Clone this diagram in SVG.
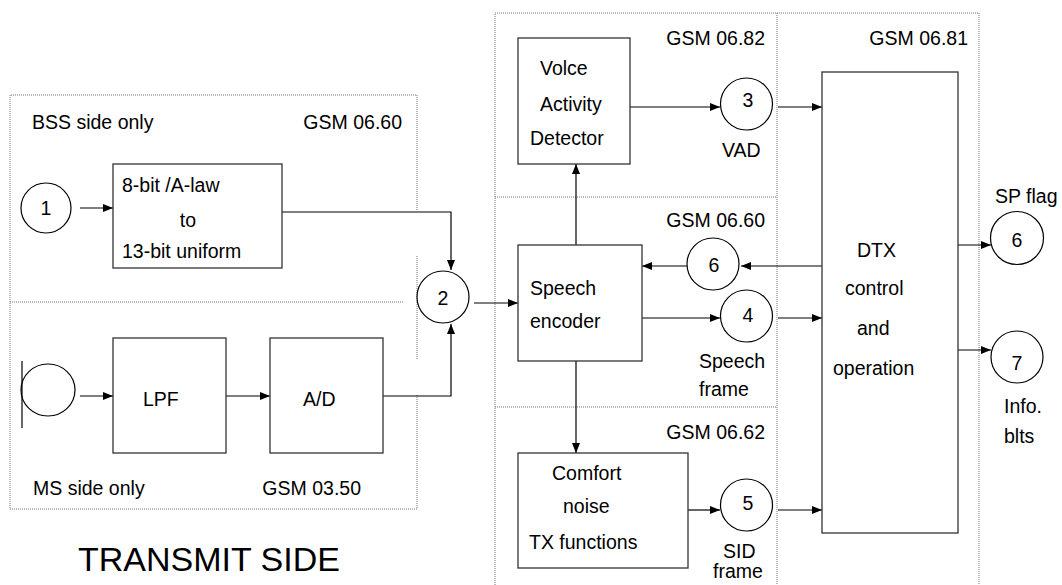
<svg xmlns="http://www.w3.org/2000/svg" width="1062" height="585" viewBox="0 0 1062 585">
<style>
text{font-family:"Liberation Sans",Arial,sans-serif;font-size:19.5px;fill:#000}
.big{font-size:34px}
.mid{text-anchor:middle}
.end{text-anchor:end}
.box{fill:#fff;stroke:#333;stroke-width:1.3}
.circ{fill:#fff;stroke:#000;stroke-width:1.2}
.dot{fill:none;stroke:#777;stroke-width:1;stroke-dasharray:1 1}
.ln{fill:none;stroke:#000;stroke-width:1.2}
.arr{fill:none;stroke:#000;stroke-width:1.2;marker-end:url(#ah)}
</style>
<defs>
<marker id="ah" viewBox="0 0 10 8" refX="10" refY="4" markerWidth="10" markerHeight="8" markerUnits="userSpaceOnUse" orient="auto">
<path d="M0,0 L10,4 L0,8 z" fill="#000"/>
</marker>
</defs>
<rect width="1062" height="585" fill="#fff"/>

<g id="frames">
<path class="dot" d="M417,210 V95 H10 V509 H417 V395 M417,256 V359"/>
<path class="dot" d="M10,302 H403"/>
<path class="dot" d="M495,585 V13 H979 V585 M777,13 V585 M495,197 H777 M495,407 H777"/>
</g>

<g id="labels">
<text x="32" y="129">BSS side only</text>
<text x="402" y="129" class="end">GSM 06.60</text>
<text x="33" y="495">MS side only</text>
<text x="361" y="495" class="end">GSM 03.50</text>
<text x="78" y="571" class="big">TRANSMIT SIDE</text>
<text x="765" y="45" class="end">GSM 06.82</text>
<text x="765" y="227" class="end">GSM 06.60</text>
<text x="765" y="439" class="end">GSM 06.62</text>
<text x="968" y="45" class="end">GSM 06.81</text>
<text x="722" y="157">VAD</text>
<text x="699" y="368">Speech</text>
<text x="699" y="396">frame</text>
<text x="723" y="558">SID</text>
<text x="713" y="578">frame</text>
<text x="995" y="203">SP flag</text>
<text x="1004" y="413">Info.</text>
<text x="1004" y="443">blts</text>
</g>

<g id="connectors">
<path class="arr" d="M80,208 H113"/>
<path class="arr" d="M282,212 H451 V270"/>
<path class="arr" d="M80,396 H113"/>
<path class="arr" d="M226,396 H270"/>
<path class="arr" d="M383,396 H451 V324"/>
<path class="arr" d="M474,303 H518"/>
<path class="arr" d="M576,245 V164"/>
<path class="arr" d="M576,361 V453"/>
<path class="arr" d="M630,107 H720"/>
<path class="arr" d="M687,266 H642"/>
<path class="arr" d="M822,266 H741"/>
<path class="arr" d="M642,318 H720"/>
<path class="arr" d="M688,510 H720"/>
<path class="arr" d="M778,107 H822"/>
<path class="arr" d="M778,318 H822"/>
<path class="arr" d="M778,510 H822"/>
<path class="arr" d="M958,245 H991"/>
<path class="arr" d="M958,350 H991"/>
</g>

<g id="n1"><circle class="circ" cx="46" cy="208" r="25"/><text x="46" y="215" class="mid">1</text></g>
<g id="conv"><rect class="box" x="113" y="164" width="169" height="104"/>
<text x="122" y="192">8-bit /A-law</text><text x="188" y="227" class="mid">to</text><text x="122" y="258">13-bit uniform</text></g>
<g id="mic"><ellipse class="circ" cx="48" cy="390" rx="27" ry="26"/><path class="ln" d="M22,361 V428"/></g>
<g id="lpf"><rect class="box" x="113" y="338" width="113" height="115"/><text x="143" y="406">LPF</text></g>
<g id="ad"><rect class="box" x="270" y="338" width="113" height="115"/><text x="303" y="406">A/D</text></g>
<g id="n2"><circle class="circ" cx="443" cy="297" r="26"/><text x="443" y="305" class="mid">2</text></g>
<g id="vad"><rect class="box" x="518" y="38" width="112" height="126"/>
<text x="540" y="75">Volce</text><text x="540" y="111">Activity</text><text x="530" y="145">Detector</text></g>
<g id="n3"><circle class="circ" cx="746.5" cy="104" r="26"/><text x="748" y="107" class="mid">3</text></g>
<g id="enc"><rect class="box" x="518" y="245" width="124" height="116"/>
<text x="530" y="295">Speech</text><text x="530" y="328">encoder</text></g>
<g id="n6a"><circle class="circ" cx="713" cy="264" r="26"/><text x="714" y="272" class="mid">6</text></g>
<g id="n4"><circle class="circ" cx="746.5" cy="316" r="26"/><text x="748" y="322" class="mid">4</text></g>
<g id="cn"><rect class="box" x="518" y="453" width="170" height="115"/>
<text x="552" y="480">Comfort</text><text x="563" y="513">noise</text><text x="529" y="549">TX functions</text></g>
<g id="n5"><circle class="circ" cx="746.5" cy="505" r="26"/><text x="748" y="510" class="mid">5</text></g>
<g id="dtx"><rect class="box" x="822" y="72" width="136" height="461"/>
<text x="857" y="257">DTX</text><text x="845" y="295">control</text><text x="857" y="335">and</text><text x="833" y="375">operation</text></g>
<g id="n6b"><circle class="circ" cx="1017" cy="238" r="26.5"/><text x="1017" y="247" class="mid">6</text></g>
<g id="n7"><circle class="circ" cx="1017" cy="357" r="26"/><text x="1017" y="370" class="mid">7</text></g>
</svg>
